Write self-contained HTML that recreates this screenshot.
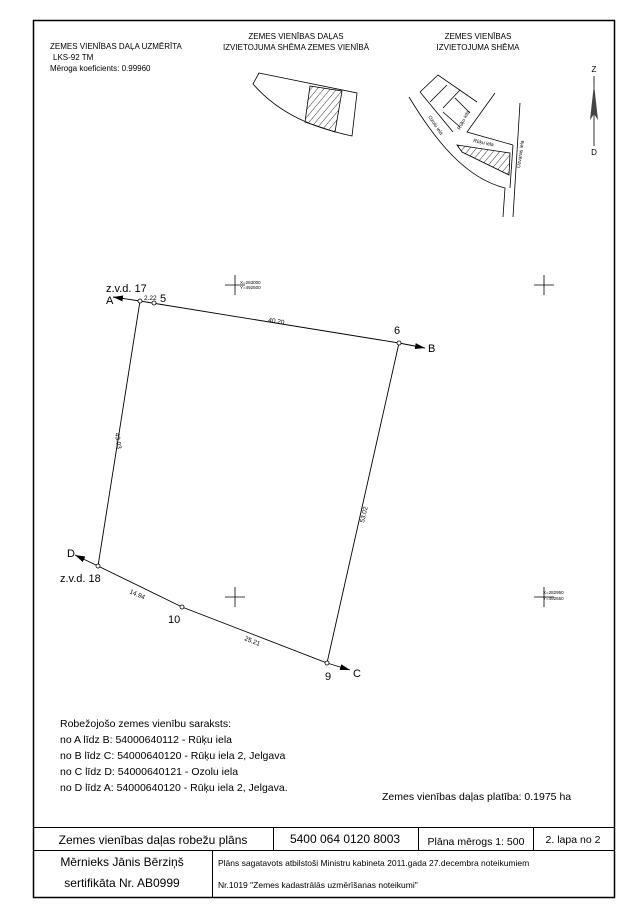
<!DOCTYPE html>
<html><head><meta charset="utf-8"><style>
body{margin:0;background:#fff;}
svg{display:block;font-family:"Liberation Sans",sans-serif;}
</style></head><body>
<svg width="643" height="913" viewBox="0 0 643 913" xmlns="http://www.w3.org/2000/svg">
<defs>
<pattern id="h" width="5" height="5" patternUnits="userSpaceOnUse" patternTransform="rotate(40)"><line x1="0" y1="0" x2="0" y2="5" stroke="#000" stroke-width="0.8"/></pattern>
<marker id="ar" markerWidth="10" markerHeight="6" refX="10" refY="3" orient="auto" markerUnits="userSpaceOnUse"><path d="M0,0 L10,3 L0,6 Z" fill="#000"/></marker>
</defs>
<rect x="33.5" y="20.5" width="581" height="877" fill="none" stroke="#000" stroke-width="1.5"/>
<g font-size="8" fill="#000">
<text x="50" y="49">ZEMES VIENĪBAS DAĻA UZMĒRĪTA</text>
<text x="53" y="60">LKS-92 TM</text>
<text x="50" y="71">Mēroga koeficients:  0.99960</text>
<text x="296" y="39" text-anchor="middle">ZEMES VIENĪBAS DAĻAS</text>
<text x="296" y="50" text-anchor="middle">IZVIETOJUMA SHĒMA ZEMES VIENĪBĀ</text>
<text x="478" y="39" text-anchor="middle">ZEMES VIENĪBAS</text>
<text x="478" y="50" text-anchor="middle">IZVIETOJUMA SHĒMA</text>
<text x="594" y="72" text-anchor="middle">Z</text>
<text x="594" y="155" text-anchor="middle">D</text>
</g>
<!-- schema 1 -->
<g fill="none" stroke="#000" stroke-width="0.8">
<path d="M259,73 L357,93 L352,136 C315,128 280,115 253,84 Z"/>
<path d="M310,86 L342,91 L335,132 L305,122 Z" fill="url(#h)"/>
</g>
<!-- schema 2 -->
<g fill="none" stroke="#000" stroke-width="0.8">
<path d="M420,92 L438,75 L477,102"/>
<path d="M420,92 L453,132"/>
<path d="M447,85 L430,102 M460,90 L443,108 M455,98 L470,113 M443,112 L460,127"/>
<path d="M409,97 C435,140 465,178 505,188 L503,217"/>
<path d="M495,93 L467,132 L513,145 L513,145"/>
<path d="M520,103 L513,217 M513,145 L510,188"/>
<path d="M457,145 L510,153 L509,175 L462,152 Z" fill="url(#h)"/>
</g>
<g font-size="5" fill="#000">
<text transform="translate(428,117) rotate(55)">Ozolu iela</text>
<text transform="translate(460,130) rotate(-62)">Rūķu iela</text>
<text transform="translate(473,142) rotate(12)">Rūķu iela</text>
<text transform="translate(520,168) rotate(-82)">Uzvaras iela</text>
</g>
<!-- north arrow -->
<line x1="594" y1="76" x2="594" y2="146" stroke="#000" stroke-width="0.8"/>
<path d="M594,84 L598,120 L594,114 L590,120 Z" fill="#444"/>
<!-- crosses -->
<g stroke="#000" stroke-width="0.8">
<path d="M225,285 H245 M235,275 V295"/>
<path d="M534,285 H554 M544,275 V295"/>
<path d="M225,597 H245 M235,587 V607"/>
<path d="M534,597 H554 M544,587 V607"/>
</g>
<g font-size="4.5"><text x="240" y="284">X=283000</text><text x="240" y="289">Y=492500</text>
<text x="543" y="594">X=282950</text><text x="543" y="600">Y=492550</text></g>
<!-- parcel -->
<g fill="none" stroke="#000" stroke-width="0.9">
<path d="M140,301 L399,343 L327,663 L182,607 L98,566 Z"/>
<line x1="140" y1="301" x2="113" y2="297" marker-end="url(#ar)"/>
<line x1="399" y1="343" x2="425" y2="348" marker-end="url(#ar)"/>
<line x1="98" y1="566" x2="75" y2="555" marker-end="url(#ar)"/>
<line x1="327" y1="663" x2="350" y2="670" marker-end="url(#ar)"/>
</g>
<g fill="#fff" stroke="#000" stroke-width="0.8">
<circle cx="140" cy="301" r="2"/><circle cx="154" cy="303" r="2"/><circle cx="399" cy="343" r="2"/>
<circle cx="327" cy="663" r="2"/><circle cx="182" cy="607" r="2"/><circle cx="98" cy="566" r="2"/>
</g>
<g font-size="11">
<text x="106" y="292">z.v.d. 17</text>
<text x="106" y="304">A</text>
<text x="160" y="302">5</text>
<text x="394" y="334">6</text>
<text x="428" y="352">B</text>
<text x="67" y="557">D</text>
<text x="60" y="582">z.v.d. 18</text>
<text x="168" y="623">10</text>
<text x="325" y="680">9</text>
<text x="353" y="677">C</text>
</g>
<g font-size="6.5">
<text x="144" y="300">2.22</text>
<text transform="translate(268,322) rotate(9)">40.20</text>
<text transform="translate(115,433) rotate(82)">43.03</text>
<text transform="translate(364,523) rotate(-77)">53.02</text>
<text transform="translate(129,593) rotate(24)">14.94</text>
<text transform="translate(244,640) rotate(22)">25.21</text>
</g>
<g font-size="10.5">
<text x="60" y="727">Robežojošo zemes vienību saraksts:</text>
<text x="60" y="743">no A līdz B: 54000640112 -  Rūķu iela</text>
<text x="60" y="759">no B līdz C: 54000640120 -  Rūķu iela 2, Jelgava</text>
<text x="60" y="775">no C līdz D: 54000640121 - Ozolu iela</text>
<text x="60" y="791">no D līdz A: 54000640120 - Rūķu iela 2, Jelgava.</text>
<text x="382" y="800">Zemes vienības daļas platība: 0.1975 ha</text>
</g>
<!-- table -->
<g stroke="#000" stroke-width="1" fill="none">
<line x1="33" y1="827.5" x2="614" y2="827.5"/>
<line x1="33" y1="850.5" x2="614" y2="850.5"/>
<line x1="273.5" y1="827" x2="273.5" y2="850"/>
<line x1="418.5" y1="827" x2="418.5" y2="850"/>
<line x1="533.5" y1="827" x2="533.5" y2="850"/>
<line x1="212.5" y1="850" x2="212.5" y2="897"/>
</g>
<g font-size="12">
<text x="153" y="844" text-anchor="middle">Zemes vienības daļas robežu plāns</text>
<text x="345" y="843" text-anchor="middle">5400 064 0120 8003</text>
<text x="476" y="845" text-anchor="middle" font-size="10.5">Plāna mērogs 1: 500</text>
<text x="573" y="843" text-anchor="middle" font-size="10.5">2. lapa no 2</text>
<text x="122" y="866" text-anchor="middle">Mērnieks Jānis Bērziņš</text>
<text x="122" y="887" text-anchor="middle">sertifikāta Nr. AB0999</text>
</g>
<g font-size="8.5">
<text x="218" y="866">Plāns sagatavots atbilstoši Ministru kabineta 2011.gada 27.decembra noteikumiem</text>
<text x="218" y="888">Nr.1019 "Zemes kadastrālās uzmērīšanas noteikumi"</text>
</g>
</svg>
</body></html>
